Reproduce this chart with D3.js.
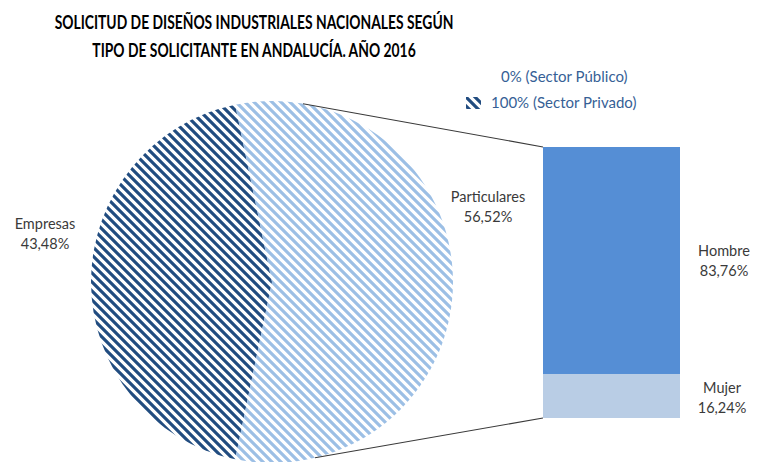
<!DOCTYPE html>
<html>
<head>
<meta charset="utf-8">
<script src="https://cdn.jsdelivr.net/npm/d3@7"></script>
<style>
  html, body { margin: 0; padding: 0; background: #fff; }
  svg { display: block; }
  text { font-family: Lato, "Open Sans", sans-serif; }
</style>
</head>
<body>
<svg id="chart" width="765" height="462"></svg>
<script>
// Solicitud de diseños industriales nacionales, Andalucía 2016
const titleLines = [
  "SOLICITUD DE DISEÑOS INDUSTRIALES NACIONALES SEGÚN",
  "TIPO DE SOLICITANTE EN ANDALUCÍA. AÑO 2016"
];
const pieCategories = ["Empresas", "Particulares"];
const pieValues = [43.48, 56.52];
const barCategories = ["Hombre", "Mujer"];
const barValues = [83.76, 16.24];
const legendLabels = ["0% (Sector Público)", "100% (Sector Privado)"];

const svg = d3.select("#chart");
const locale = d3.formatLocale({ decimal: ",", thousands: ".", grouping: [3], currency: ["", "€"] });
const fmt = v => locale.format(".2f")(v) + "%";

const darkBlue = "#214c80";
const lightBlue = "#9cbfe5";
const hombreFill = "#558ed5";
const mujerFill = "#b9cde5";
const legendText = "#365f96";

// Diagonal hatch patterns
const defs = svg.append("defs");
function hatch(id, color) {
  const s = 9;
  const p = defs.append("pattern")
    .attr("id", id)
    .attr("patternUnits", "userSpaceOnUse")
    .attr("width", s).attr("height", s);
  p.append("path")
    .attr("d", `M-2,-2L${s + 2},${s + 2}M-2,${s - 2}L2,${s + 2}M${s - 2},-2L${s + 2},2`)
    .attr("stroke", color)
    .attr("stroke-width", 3.2)
    .attr("fill", "none");
}
hatch("hatchDark", darkBlue);
hatch("hatchLight", lightBlue);
const pieFills = ["url(#hatchDark)", "url(#hatchLight)"];

// Title (condensed bold)
svg.append("g").selectAll("text")
  .data(titleLines).join("text")
  .attr("transform", (d, i) => `translate(254,${29 + i * 28}) scale(0.75,1)`)
  .attr("text-anchor", "middle")
  .attr("font-weight", "bold")
  .attr("font-size", 18.5)
  .attr("fill", "#000")
  .text(d => d);

// Pie
const cx = 272, cy = 282, r = 181;
const total = d3.sum(pieValues);
const firstShare = pieValues[0] / total;
const start = 1.5 * Math.PI - firstShare * Math.PI;
const pie = d3.pie().sort(null).startAngle(start).endAngle(start + 2 * Math.PI);
const arcs = pie(pieValues);
const arc = d3.arc().innerRadius(0).outerRadius(r);
const pieG = svg.append("g").attr("transform", `translate(${cx},${cy})`);
pieG.selectAll("path")
  .data(arcs).join("path")
  .attr("d", arc)
  .attr("fill", (d, i) => pieFills[i]);

// Bar of the "Particulares" slice
const barX = 543, barW = 137;
const y = d3.scaleLinear().domain([0, 100]).range([418, 147]);
const stacked = [];
let acc = 0;
for (let i = barCategories.length - 1; i >= 0; i--) {
  stacked[i] = { name: barCategories[i], value: barValues[i], y0: acc, y1: acc + barValues[i] };
  acc += barValues[i];
}
const barFills = [hombreFill, mujerFill];
svg.append("g").selectAll("rect")
  .data(stacked).join("rect")
  .attr("x", barX)
  .attr("width", barW)
  .attr("y", d => y(d.y1))
  .attr("height", d => y(d.y0) - y(d.y1))
  .attr("fill", (d, i) => barFills[i]);

// Connector lines from the pie to the bar
const aTop = 0.172, aBot = Math.PI - 0.24;
const pt = a => [cx + r * Math.sin(a), cy - r * Math.cos(a)];
const conn = [
  [pt(aTop), [barX, y(100)]],
  [pt(aBot), [barX, y(0)]]
];
svg.append("g").selectAll("line")
  .data(conn).join("line")
  .attr("x1", d => d[0][0]).attr("y1", d => d[0][1])
  .attr("x2", d => d[1][0]).attr("y2", d => d[1][1])
  .attr("stroke", "#3a3a3a")
  .attr("stroke-width", 1.1);

// Data labels
const labelSize = 14.5;
function label(x, yy, lines) {
  const t = svg.append("text")
    .attr("x", x).attr("y", yy)
    .attr("text-anchor", "middle")
    .attr("font-size", labelSize)
    .attr("fill", "#3a3a3a");
  lines.forEach((l, i) => t.append("tspan").attr("x", x).attr("dy", i ? 20 : 0).text(l));
}
label(45, 229, [pieCategories[0], fmt(pieValues[0])]);
label(488, 202, [pieCategories[1], fmt(pieValues[1])]);
label(724, 256, [barCategories[0], fmt(barValues[0])]);
label(722, 393, [barCategories[1], fmt(barValues[1])]);

// Legend
const leg = svg.append("g");
leg.append("text")
  .attr("x", 501).attr("y", 82)
  .attr("font-size", 15).attr("fill", legendText)
  .text(legendLabels[0]);
leg.append("rect")
  .attr("x", 466).attr("y", 97).attr("width", 15).attr("height", 12)
  .attr("fill", "url(#hatchDark)");
leg.append("text")
  .attr("x", 491).attr("y", 108)
  .attr("font-size", 15).attr("fill", legendText)
  .text(legendLabels[1]);
</script>
</body>
</html>
